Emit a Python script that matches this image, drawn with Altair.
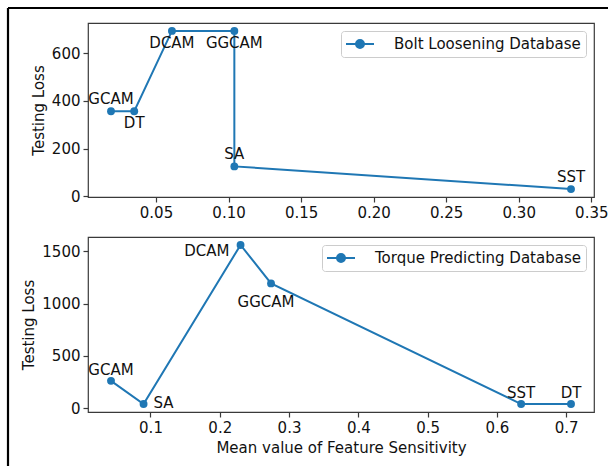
import altair as alt
import pandas as pd

# Bolt loosening database: methods in order along the curve
bolt_methods = ["GCAM", "DT", "DCAM", "GGCAM", "SA", "SST"]
bolt_sensitivity = [0.019, 0.035, 0.061, 0.104, 0.104, 0.336]
bolt_loss = [357, 357, 693, 693, 126, 31]

# Torque predicting database
torque_methods = ["GCAM", "SA", "DCAM", "GGCAM", "SST", "DT"]
torque_sensitivity = [0.043, 0.090, 0.230, 0.274, 0.635, 0.707]
torque_loss = [260, 38, 1561, 1193, 38, 38]

bolt_xticks = [0.05, 0.10, 0.15, 0.20, 0.25, 0.30, 0.35]
bolt_yticks = [0, 200, 400, 600]
torque_xticks = [0.1, 0.2, 0.3, 0.4, 0.5, 0.6, 0.7]
torque_yticks = [0, 500, 1000, 1500]

BLUE = "#1f77b4"
FONT = "DejaVu Sans"
FS = 15
INK = "#111111"

# legend glyph: a short line with a dot in the middle
LEGEND_GLYPH = "M-2,0L2,0M-0.57,0A0.57,0.57,0,1,1,0.57,0A0.57,0.57,0,1,1,-0.57,0Z"


def frame(methods, xs, ys, series):
    return pd.DataFrame({
        "method": methods,
        "sens": xs,
        "loss": ys,
        "series": [series] * len(methods),
        "step": list(range(len(methods))),
    })


def panel(df, xdom, ydom, xticks, xfmt, yticks, xtitle, placements, border=False):
    base = alt.Chart(df)
    x = alt.X("sens:Q",
              scale=alt.Scale(domain=xdom, nice=False, zero=False),
              axis=alt.Axis(values=xticks, format=xfmt, title=xtitle,
                            grid=False, domain=False, tickSize=5,
                            labelPadding=3, titlePadding=5))
    y = alt.Y("loss:Q",
              scale=alt.Scale(domain=ydom, nice=False, zero=False),
              axis=alt.Axis(values=yticks, format="d", title="Testing Loss",
                            grid=False, domain=False, tickSize=5,
                            labelPadding=3, titlePadding=5))
    color = alt.Color("series:N", scale=alt.Scale(range=[BLUE]),
                      legend=alt.Legend(
                          title=None, orient="top-right", offset=8,
                          symbolType=LEGEND_GLYPH, symbolSize=196,
                          symbolStrokeWidth=2, symbolStrokeColor=BLUE,
                          symbolFillColor=BLUE, symbolOffset=6,
                          labelOffset=26, padding=5, labelLimit=400,
                          fillColor="white", strokeColor="#cccccc",
                          cornerRadius=3, labelFont=FONT,
                          labelFontSize=FS, labelColor=INK))
    line = base.mark_line(strokeWidth=2).encode(x=x, y=y, color=color,
                                                 order="step:Q")
    pts = base.mark_circle(size=62, opacity=1, color=BLUE).encode(x=x, y=y)
    layers = [line, pts]
    for names, opts in placements:
        layers.append(
            base.transform_filter(
                alt.FieldOneOfPredicate(field="method", oneOf=names)
            ).mark_text(font=FONT, fontSize=FS, color=INK,
                        baseline="middle", **opts)
            .encode(x=x, y=y, text="method:N")
        )
    if border:
        one = alt.Chart(pd.DataFrame({"k": [0]}))
        layers.append(one.mark_rule(color="black", strokeWidth=2.2).encode(
            x=alt.value(-80), x2=alt.value(520), y=alt.value(-15)))
        layers.append(one.mark_rule(color="black", strokeWidth=2.2).encode(
            x=alt.value(-80), y=alt.value(-15), y2=alt.value(445)))
    return alt.layer(*layers).properties(width=506, height=174)


bolt = frame(bolt_methods, bolt_sensitivity, bolt_loss,
             "Bolt Loosening Database")
torque = frame(torque_methods, torque_sensitivity, torque_loss,
               "Torque Predicting Database")

top = panel(
    bolt, [0.00315, 0.35185], [-2.1, 726.1], bolt_xticks, ".2f",
    bolt_yticks, None,
    [
        (["GCAM", "SA", "SST"], dict(align="center", dy=-12)),
        (["DT", "DCAM", "GGCAM"], dict(align="center", dy=12)),
    ],
    border=True,
)

bottom = panel(
    torque, [0.0098, 0.7402], [-38.15, 1637.15], torque_xticks, ".1f",
    torque_yticks, "Mean value of Feature Sensitivity",
    [
        (["GCAM", "SST", "DT"], dict(align="center", dy=-11)),
        (["SA"], dict(align="left", dx=10, dy=-1)),
        (["DCAM"], dict(align="right", dx=-11, dy=6)),
        (["GGCAM"], dict(align="center", dx=-5, dy=19)),
    ],
).properties(height=175)

chart = alt.vconcat(top, bottom, spacing=40, bounds="flush").resolve_scale(
    color="independent", x="independent", y="independent"
).resolve_legend(color="independent").properties(
    padding={"left": 6, "top": 6, "right": 0, "bottom": 0},
    background="white",
).configure_view(
    stroke="#3a3a3a", strokeWidth=1.2
).configure_axis(
    labelFont=FONT, labelFontSize=FS, labelColor=INK,
    titleFont=FONT, titleFontSize=FS, titleColor=INK,
    titleFontWeight="normal", tickColor="#3a3a3a", tickWidth=1.2,
)

chart.save("out.html", embed_options={"renderer": "svg", "actions": False})
